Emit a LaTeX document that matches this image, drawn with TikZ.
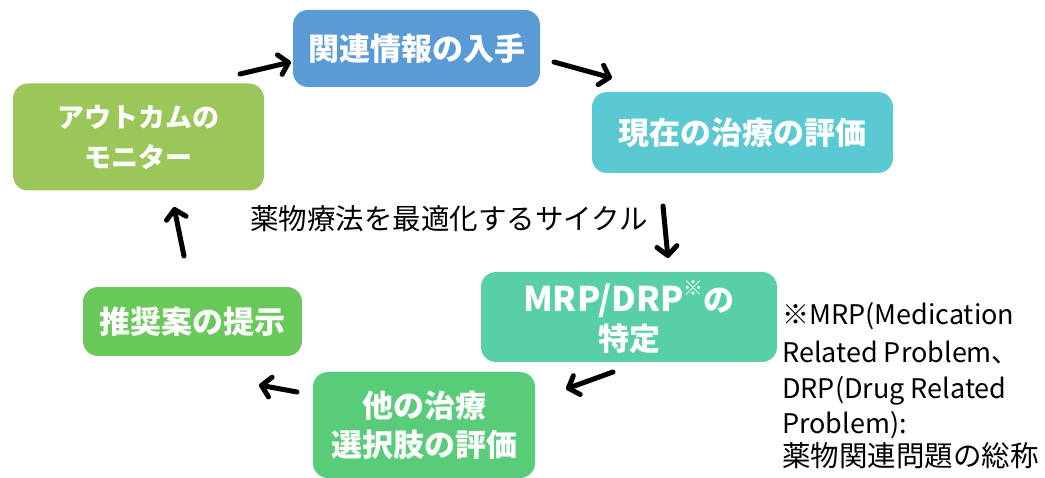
\documentclass[tikz,border=0pt]{standalone}
\usepackage{fontspec}
\usetikzlibrary{arrows.meta}
\newfontfamily\jp{Noto Sans CJK JP}
\definecolor{cblue}{HTML}{5B9BD5}
\definecolor{cteal}{HTML}{5BC9D1}
\definecolor{colive}{HTML}{9BC75A}
\definecolor{cmint}{HTML}{58CFA6}
\definecolor{cgreen}{HTML}{68C85A}
\definecolor{cgreenb}{HTML}{58CC78}
\tikzset{
  stepbox/.style={rounded corners=15pt, inner sep=0pt, text=white, align=center,
    font=\jp\bfseries\fontsize{31}{39}\selectfont},
  cyclearrow/.style={line width=5pt, line cap=round, black,
    -{Straight Barb[length=9pt,width=20pt,line cap=round,line join=round]}},
  notetext/.style={anchor=base west, inner sep=0pt, font=\jp\fontsize{27}{35}\selectfont},
}
\begin{document}
\begin{tikzpicture}[x=1pt,y=-1pt]
\useasboundingbox (0,0) rectangle (1045,478);
\node[stepbox, fill=cblue, minimum width=247pt, minimum height=77pt] (info) at (416.5,48.5) {関連情報の入手};
\node[stepbox, fill=cteal, minimum width=301pt, minimum height=81pt] (cur) at (742.5,132.5) {現在の治療の評価};
\node[stepbox, fill=colive, minimum width=251pt, minimum height=107pt, font=\jp\bfseries\fontsize{27}{40}\selectfont] (mon) at (138.5,137) {アウトカムの\\モニター};
\node[stepbox, fill=cmint, minimum width=296pt, minimum height=90pt] (mrp) at (629,317) {{\fontsize{34}{39}\selectfont MRP/DRP}\raisebox{0.5em}{\fontsize{20}{20}\selectfont ※}の\\特定};
\node[stepbox, fill=cgreen, minimum width=219pt, minimum height=69pt] (rec) at (192.5,321.5) {推奨案の提示};
\node[stepbox, fill=cgreenb, minimum width=222pt, minimum height=106pt] (alt) at (424,425) {他の治療\\選択肢の評価};
\node[inner sep=0pt, font=\jp\fontsize{28.5}{28.5}\selectfont] (title) at (449,219) {薬物療法を最適化するサイクル};
\node[notetext] (n1) at (782,325) {※MRP(Medication};
\node[notetext] (n2) at (782,363) {Related Problem、};
\node[notetext] (n3) at (782,399) {DRP(Drug Related};
\node[notetext] (n4) at (782,434) {Problem):};
\node[notetext, font=\jp\fontsize{28.5}{35}\selectfont] (n5) at (782,467) {薬物関連問題の総称};
\coordinate (a1s) at (240,74); \coordinate (a1e) at (291,62);
\coordinate (a2s) at (554,62); \coordinate (a2e) at (612,78);
\coordinate (a3s) at (663,206); \coordinate (a3e) at (668,258);
\coordinate (a4s) at (613,372); \coordinate (a4e) at (566,389);
\coordinate (a5s) at (297,392); \coordinate (a5e) at (259,385);
\coordinate (a6s) at (184,256); \coordinate (a6e) at (174,207);
\draw[cyclearrow] (a1s) -- (a1e);
\draw[cyclearrow] (a2s) -- (a2e);
\draw[cyclearrow] (a3s) -- (a3e);
\draw[cyclearrow] (a4s) -- (a4e);
\draw[cyclearrow] (a5s) -- (a5e);
\draw[cyclearrow] (a6s) -- (a6e);
\end{tikzpicture}
\end{document}
